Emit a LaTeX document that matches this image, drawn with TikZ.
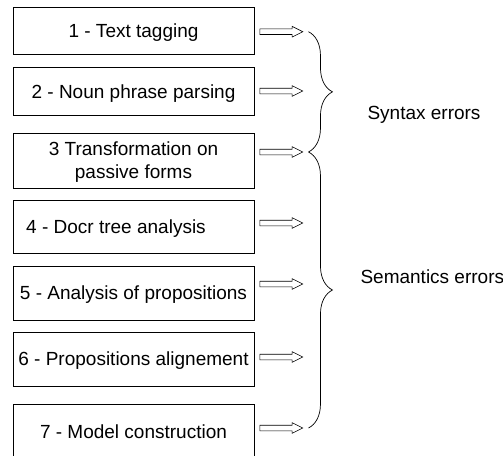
\documentclass[tikz,border=0pt]{standalone}
\usepackage{fontspec}
\setmainfont{Liberation Sans}
\usetikzlibrary{shapes.arrows,decorations.pathreplacing}

\tikzset{
	stepbox/.style={draw, line width=0.8pt, minimum width=241pt, inner sep=0pt, text depth=0pt, align=center},
	blockarrow/.style={single arrow, draw, line width=0.6pt, anchor=tail, minimum height=43pt, minimum width=10pt,
		single arrow head extend=2.5pt, single arrow tip angle=53, inner sep=2.5pt},
	errbrace/.style={decorate, decoration={brace, amplitude=24pt}, line width=0.7pt},
	errlabel/.style={anchor=west}
}

\begin{document}
\begin{tikzpicture}[x=1pt, y=-1pt, font=\fontsize{19}{23}\selectfont]
	\clip (0,0) rectangle (503,455);
	
	\node[stepbox, minimum height=47pt] (box1) at (133.5,31) {1 - Text tagging};
	\node[stepbox, minimum height=47.5pt] (box2) at (133.5,91.3) {2 - Noun phrase parsing};
	\node[stepbox, minimum height=55pt] (box3) at (133.5,160.5) {3 Transformation on\\passive forms};
	\node[stepbox, minimum height=53pt, label={[xshift=-17.5pt, text depth=0pt]center:4 - Docr tree analysis}] (box4) at (133.5,226.5) {};
	\node[stepbox, minimum height=54pt] (box5) at (133.5,293) {5 - Analysis of propositions};
	\node[stepbox, minimum height=54pt] (box6) at (133.5,359) {6 - Propositions alignement};
	\node[stepbox, minimum height=56pt] (box7) at (133.5,432) {7 - Model construction};
	
	\node[blockarrow] (arr1) at (259.5,31.7) {};
	\node[blockarrow] (arr2) at (259.5,91) {};
	\node[blockarrow] (arr3) at (259.5,152) {};
	\node[blockarrow] (arr4) at (259.5,223) {};
	\node[blockarrow] (arr5) at (259.5,284) {};
	\node[blockarrow] (arr6) at (259.5,357) {};
	\node[blockarrow] (arr7) at (259.5,428) {};
	
	\draw[errbrace] ([xshift=5pt]arr1.tip) -- ([xshift=5pt]arr3.tip);
	\draw[errbrace] ([xshift=5pt]arr3.tip) -- ([xshift=5pt]arr7.tip);
	
	\node[errlabel] (syntax) at (364,115) {Syntax errors};
	\node[errlabel] (semantics) at (357,277) {Semantics errors};
\end{tikzpicture}
\end{document}
